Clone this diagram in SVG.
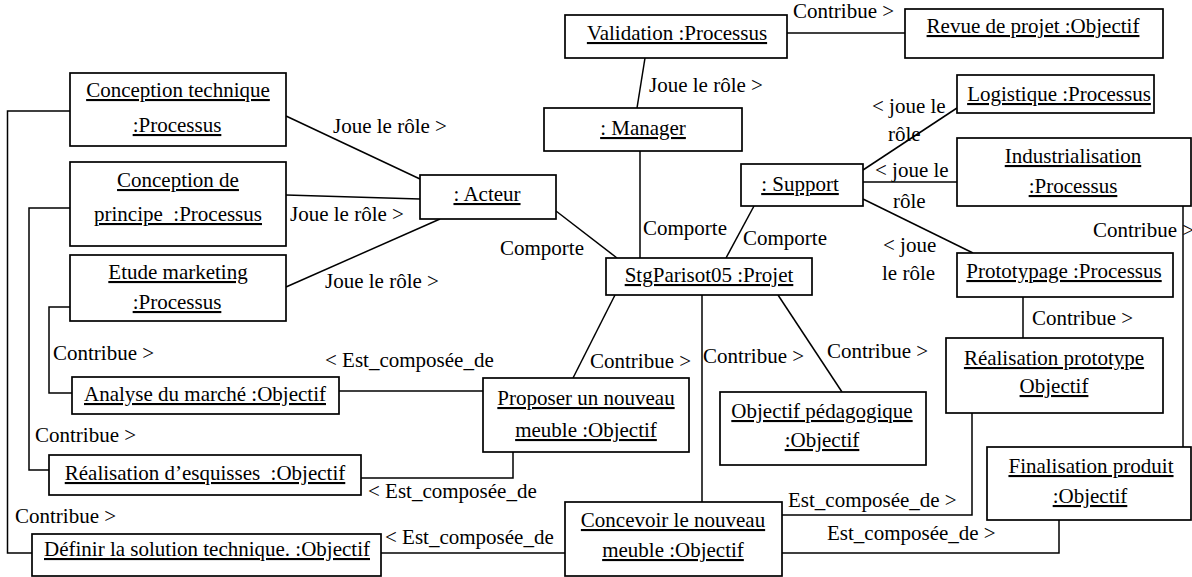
<svg xmlns="http://www.w3.org/2000/svg" width="1192" height="577" viewBox="0 0 1192 577">
<style>
.n rect{fill:#fff;stroke:#000;stroke-width:1.7}
text{font-family:'Liberation Serif','Times New Roman',serif;font-size:21px;fill:#000;white-space:pre}
.n text{text-anchor:middle;text-decoration:underline}
#connectors line,#connectors polyline{stroke:#000;stroke-width:1.5;fill:none}
</style>
<rect width="1192" height="577" fill="#fff"/>
<g id="connectors">
<line x1="286" y1="116" x2="420" y2="179"/>
<line x1="286" y1="195" x2="420" y2="199"/>
<line x1="286" y1="287" x2="440" y2="219"/>
<line x1="645" y1="58" x2="637" y2="108"/>
<line x1="787" y1="33" x2="905" y2="33"/>
<line x1="640" y1="151" x2="640" y2="258"/>
<line x1="556" y1="211" x2="617" y2="258"/>
<line x1="754" y1="206" x2="726" y2="258"/>
<line x1="863" y1="170" x2="957" y2="108"/>
<line x1="863" y1="182" x2="957" y2="182"/>
<line x1="863" y1="199" x2="973" y2="253"/>
<line x1="1183" y1="206" x2="1183" y2="447"/>
<line x1="1023" y1="297" x2="1023" y2="338"/>
<polyline points="972,413 972,515 782,515"/>
<polyline points="1059,520 1059,553 782,553"/>
<line x1="615" y1="295" x2="573" y2="378"/>
<line x1="702" y1="295" x2="702" y2="502"/>
<line x1="778" y1="295" x2="842" y2="392"/>
<line x1="483" y1="391" x2="339" y2="391"/>
<polyline points="513,452 513,478 361,478"/>
<line x1="565" y1="553" x2="381" y2="553"/>
<polyline points="70,111 7.5,111 7.5,553 32,553"/>
<polyline points="70,208 29,208 29,470 49,470"/>
<polyline points="70,307 49,307 49,393 72,393"/>
<g id="labels">
<text x="333" y="133">Joue le rôle &gt;</text>
<text x="290" y="221">Joue le rôle &gt;</text>
<text x="325" y="288">Joue le rôle &gt;</text>
<text x="649" y="92">Joue le rôle &gt;</text>
<text x="500" y="255">Comporte</text>
<text x="643" y="235">Comporte</text>
<text x="743" y="245">Comporte</text>
<text x="793" y="18">Contribue &gt;</text>
<text x="872" y="113">&lt; joue le</text>
<text x="888" y="141">rôle</text>
<text x="875" y="177">&lt; joue le</text>
<text x="893" y="208">rôle</text>
<text x="883" y="252">&lt; joue</text>
<text x="882" y="280">le rôle</text>
<text x="1093" y="237">Contribue &gt;</text>
<text x="1032" y="325">Contribue &gt;</text>
<text x="590" y="368">Contribue &gt;</text>
<text x="703" y="363">Contribue &gt;</text>
<text x="827" y="358">Contribue &gt;</text>
<text x="53" y="360">Contribue &gt;</text>
<text x="35" y="442">Contribue &gt;</text>
<text x="15" y="523">Contribue &gt;</text>
<text x="325" y="367">&lt; Est_composée_de</text>
<text x="368" y="498">&lt; Est_composée_de</text>
<text x="385" y="544">&lt; Est_composée_de</text>
<text x="788" y="507">Est_composée_de &gt;</text>
<text x="827" y="540">Est_composée_de &gt;</text>
</g>
</g>
<g id="conception-technique" class="n"><rect x="70" y="73" width="216" height="73"/><text x="178" y="97">Conception technique</text><text x="177" y="132">:Processus</text></g>
<g id="conception-principe" class="n"><rect x="70" y="162" width="216" height="84"/><text x="178" y="187">Conception de</text><text x="178" y="221">principe  :Processus</text></g>
<g id="etude-marketing" class="n"><rect x="70" y="255" width="216" height="66"/><text x="178" y="279">Etude marketing</text><text x="177" y="309">:Processus</text></g>
<g id="analyse-marche" class="n"><rect x="72" y="377" width="267" height="37"/><text x="205" y="401">Analyse du marché :Objectif</text></g>
<g id="realisation-esquisses" class="n"><rect x="49" y="455" width="312" height="40"/><text x="205" y="480">Réalisation d’esquisses  :Objectif</text></g>
<g id="definir-solution" class="n"><rect x="32" y="534" width="349" height="42"/><text x="207" y="556">Définir la solution technique. :Objectif</text></g>
<g id="acteur" class="n"><rect x="420" y="175" width="136" height="44"/><text x="487" y="201">: Acteur</text></g>
<g id="validation" class="n"><rect x="565" y="15" width="222" height="43"/><text x="677" y="40">Validation :Processus</text></g>
<g id="manager" class="n"><rect x="544" y="108" width="198" height="43"/><text x="643" y="135">: Manager</text></g>
<g id="revue-projet" class="n"><rect x="905" y="9" width="258" height="49"/><text x="1033" y="33">Revue de projet :Objectif</text></g>
<g id="logistique" class="n"><rect x="957" y="75" width="197" height="38"/><text x="1059" y="101">Logistique :Processus</text></g>
<g id="support" class="n"><rect x="741" y="164" width="122" height="42"/><text x="800" y="191">: Support</text></g>
<g id="industrialisation" class="n"><rect x="957" y="138" width="234" height="68"/><text x="1073" y="163">Industrialisation</text><text x="1073" y="193">:Processus</text></g>
<g id="prototypage" class="n"><rect x="957" y="253" width="216" height="44"/><text x="1064" y="278">Prototypage :Processus</text></g>
<g id="projet" class="n"><rect x="606" y="258" width="206" height="37"/><text x="709" y="282">StgParisot05 :Projet</text></g>
<g id="proposer-meuble" class="n"><rect x="483" y="378" width="206" height="74"/><text x="586" y="405">Proposer un nouveau</text><text x="586" y="437">meuble :Objectif</text></g>
<g id="objectif-pedagogique" class="n"><rect x="720" y="392" width="206" height="73"/><text x="822" y="418">Objectif pédagogique</text><text x="822" y="447">:Objectif</text></g>
<g id="realisation-prototype" class="n"><rect x="946" y="338" width="217" height="75"/><text x="1054" y="365">Réalisation prototype</text><text x="1054" y="393">Objectif</text></g>
<g id="concevoir-meuble" class="n"><rect x="565" y="502" width="217" height="74"/><text x="673" y="527">Concevoir le nouveau</text><text x="673" y="557">meuble :Objectif</text></g>
<g id="finalisation-produit" class="n"><rect x="987" y="447" width="204" height="73"/><text x="1091" y="473">Finalisation produit</text><text x="1090" y="503">:Objectif</text></g>
</svg>
